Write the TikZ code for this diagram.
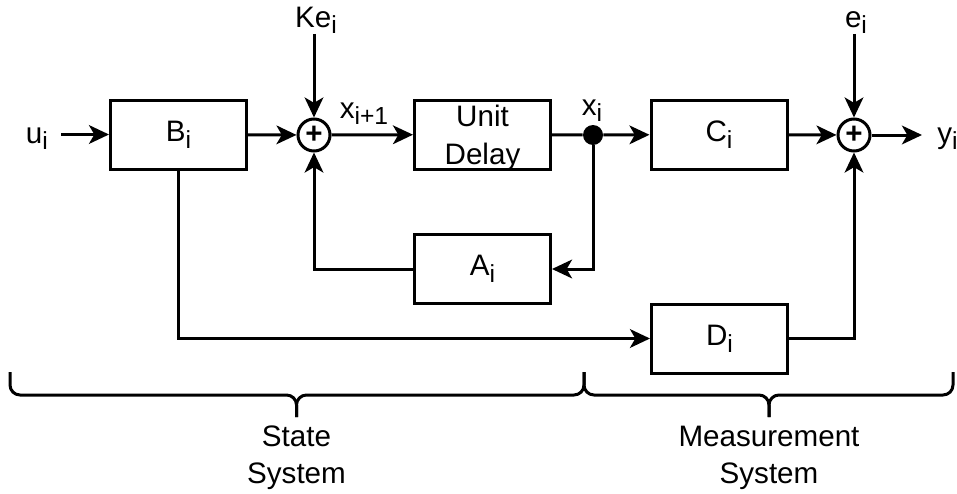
\documentclass[tikz,border=0pt]{standalone}
\usepackage{fontspec}
\setmainfont{Liberation Sans}
\usetikzlibrary{arrows.meta}
\definecolor{Ink}{HTML}{000000}
\newcommand{\diafont}{\fontsize{22.2pt}{28.5pt}\selectfont}
\newcommand{\lowsub}[1]{\raisebox{-5pt}{\fontsize{18.5pt}{18.5pt}\selectfont #1}}
\tikzset{
  block/.style={
    draw=Ink, line width=2.25pt, minimum width=102pt,
    minimum height=51.75pt, align=center, inner sep=0pt, font=\diafont
  },
  summer/.style={
    circle, draw=Ink, line width=2.25pt, minimum size=24pt,
    inner sep=0pt, font=\diafont\bfseries
  },
  junction/.style={circle, fill=Ink, minimum size=15pt, inner sep=0pt},
  signal/.style={inner sep=0pt, text=Ink, font=\diafont},
  caption/.style={align=center, inner sep=0pt, font={\fontsize{22.2pt}{27.75pt}\selectfont}},
  flow/.style={-{Stealth[length=15pt,width=14pt,inset=4pt]}, line width=2.25pt, draw=Ink},
  wire/.style={line width=2.25pt, draw=Ink},
  bracket/.style={line width=2.25pt, draw=Ink, rounded corners=7.5pt}
}

\begin{document}
\begin{tikzpicture}[x=0.75pt,y=-0.75pt]
    \useasboundingbox (0,0) rectangle (957,493);
    % state system
    \node[block] (B) at (178.5,134.5) {B\lowsub{i}};
    \node[summer] (sum1) at (314,135) {+};
    \node[block,text depth=0pt] (delay) at (482.5,134.5) {Unit\\Delay};
    \node[block] (A) at (482.5,269) {A\lowsub{i}};
    \node[junction] (junc) at (593,135) {};
    % measurement system
    \node[block] (C) at (719,134.5) {C\lowsub{i}};
    \node[block] (D) at (719.5,338.5) {D\lowsub{i}};
    \node[summer] (sum2) at (854,135) {+};
    % signals
    \node[signal,anchor=base east,inner xsep=9.75pt] (ui) at (61,143) {u\lowsub{i}};
    \node[signal,anchor=base] (kei) at (316,27) {Ke\lowsub{i}};
    \node[signal,anchor=base] (xnext) at (364,118) {x\lowsub{i+1}};
    \node[signal,anchor=base] (xcur) at (592,115) {x\lowsub{i}};
    \node[signal,anchor=base] (ei) at (856,27) {e\lowsub{i}};
    \node[signal,anchor=base west,inner xsep=11.25pt] (yi) at (922,143) {y\lowsub{i}};

    \draw[flow] (ui.east |- B) -- (B);
    \draw[flow] (B) -- (sum1);
    \draw[flow] (sum1 |- kei.south) -- (sum1);
    \draw[flow] (sum1) -- (delay);
    \draw[wire] (delay) -- (junc);
    \draw[flow] (junc) -- (C);
    \draw[flow] (junc) |- (A);
    \draw[flow] (A) -| (sum1);
    \draw[flow] (B) |- (D);
    \draw[flow] (D) -| (sum2);
    \draw[flow] (C) -- (sum2);
    \draw[flow] (sum2 |- ei.south) -- (sum2);
    \draw[flow] (sum2) -- (sum2 -| yi.west);

    % braces
    \draw[bracket] (10,372) |- (296.5,395) -- (296.5,417);
    \draw[bracket] (584,372) |- (296.5,395) -- (296.5,417);
    \draw[bracket] (584,372) |- (769,395) -- (769,417);
    \draw[bracket] (953,372) |- (769,395) -- (769,417);
    \node[caption] (statecap) at (296.5,458) {State\\System};
    \node[caption] (meascap) at (769,458) {Measurement\\System};
  \end{tikzpicture}
\end{document}
